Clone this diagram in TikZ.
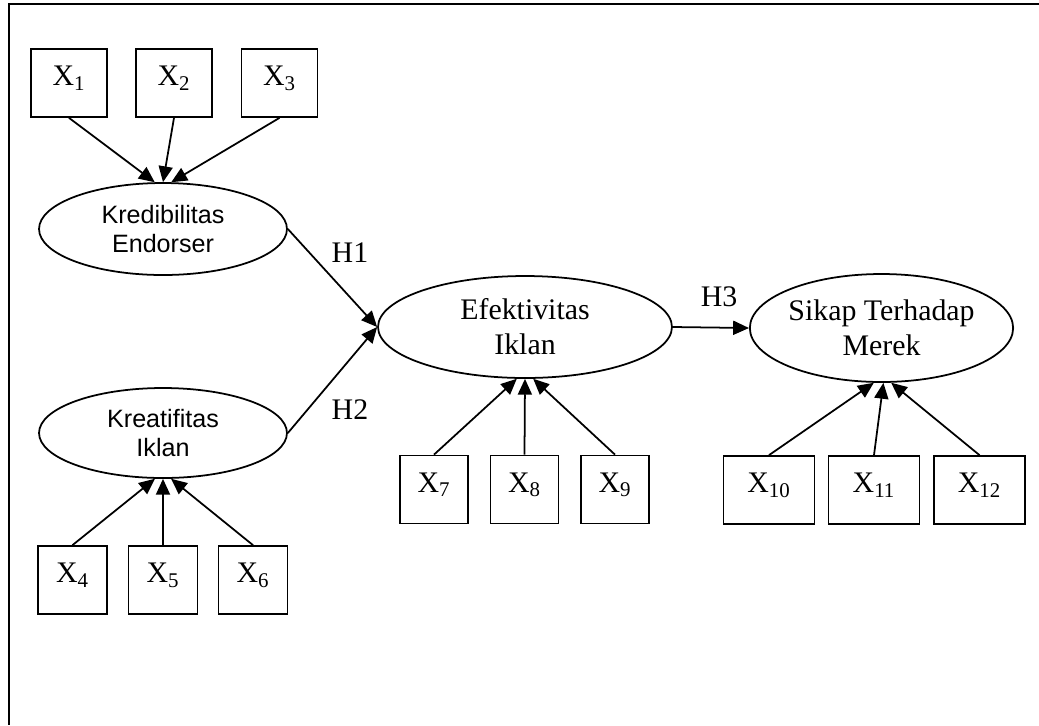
\documentclass[tikz,border=0pt]{standalone}
\usepackage{fontspec}
\setmainfont{Liberation Serif}
\setsansfont{Liberation Sans}
\usetikzlibrary{shapes.geometric,arrows.meta}

\begin{document}
\begin{tikzpicture}[x=0.02cm, y=-0.02cm, line width=1pt,
    >={Triangle[length=9pt,width=8pt]},
    font=\fontsize{17}{20}\selectfont,
    ind/.style={draw, rectangle, inner sep=0pt, minimum height=1.36cm,
                text height=11pt, text depth=8pt},
    lat/.style={draw, ellipse, inner sep=0pt, align=center},
    latsf/.style={lat, font=\sffamily\fontsize{14.3}{17}\selectfont}]

\useasboundingbox (0,0) rectangle (1039,725);
\draw (1039,4) -- (9,4) -- (9,725);

% indicators, exogenous
\node[ind, minimum width=1.52cm] (x1) at (69,83)    {X\textsubscript{1}};
\node[ind, minimum width=1.52cm] (x2) at (174,83)   {X\textsubscript{2}};
\node[ind, minimum width=1.52cm] (x3) at (279.5,83) {X\textsubscript{3}};

\node[latsf, minimum width=4.96cm, minimum height=1.84cm]
    (kred) at (163,229) {Kredibilitas\\Endorser};
\node[latsf, minimum width=4.96cm, minimum height=1.8cm]
    (kreat) at (163,433) {Kreatifitas\\Iklan};

\node[ind, minimum width=1.38cm] (x4) at (72.5,580) {X\textsubscript{4}};
\node[ind, minimum width=1.38cm] (x5) at (163,580)  {X\textsubscript{5}};
\node[ind, minimum width=1.38cm] (x6) at (253,580)  {X\textsubscript{6}};

\draw[->] (x1.south) -- (kred.100);
\draw[->] (x2.south) -- (kred.north);
\draw[->] (x3.south) -- (kred.80);

\draw[->] (x4.north) -- (kreat.260);
\draw[->] (x5.north) -- (kreat.south);
\draw[->] (x6.north) -- (kreat.280);

% endogenous
\node[lat, minimum width=5.88cm, minimum height=2.04cm]
    (efek) at (525,327) {Efektivitas\\Iklan};
\node[lat, minimum width=5.14cm, minimum height=2.16cm]
    (sikap) at (881.5,328) {Sikap Terhadap\\Merek};

\node[ind, minimum width=1.36cm] (x7) at (434,489.5)   {X\textsubscript{7}};
\node[ind, minimum width=1.36cm] (x8) at (524.5,489.5) {X\textsubscript{8}};
\node[ind, minimum width=1.36cm] (x9) at (615,489.5)   {X\textsubscript{9}};

\node[ind, minimum width=1.82cm] (x10) at (769,490)   {X\textsubscript{10}};
\node[ind, minimum width=1.82cm] (x11) at (874,490)   {X\textsubscript{11}};
\node[ind, minimum width=1.82cm] (x12) at (979.5,490) {X\textsubscript{12}};

\draw[->] (x7.north) -- (efek.261);
\draw[->] (x8.north) -- (efek.south);
\draw[->] (x9.north) -- (efek.279);

\draw[->] (x10.north) -- (sikap.262);
\draw[->] (x11.north) -- (sikap.272);
\draw[->] (x12.north) -- (sikap.280);

% hypotheses
\draw[->] (kred.east)  -- (efek.west);
\draw[->] (kreat.east) -- (efek.west);
\draw[->] (efek.east)  -- (sikap.west);

\node (h1) at (350,253) {H1};
\node (h2) at (350,410) {H2};
\node (h3) at (719,297) {H3};

\end{tikzpicture}
\end{document}
